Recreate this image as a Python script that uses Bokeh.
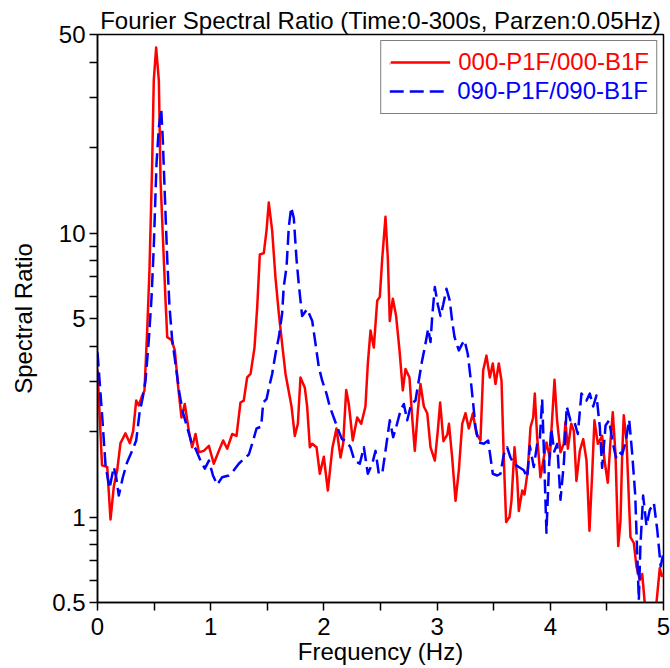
from bokeh.plotting import figure
from bokeh.models import Legend, LegendItem, FixedTicker, CustomJSTickFormatter, Range1d
from bokeh.embed import file_html
from bokeh.resources import INLINE

FONT = "Liberation Sans"

# Series 000-P1F/000-B1F (solid red)
freq_000 = [0.0, 0.04, 0.086, 0.115, 0.144, 0.174, 0.203, 0.247, 0.286, 0.315, 0.342, 0.365,
            0.389, 0.415, 0.439, 0.459, 0.483, 0.497, 0.518, 0.542, 0.557, 0.58, 0.6, 0.616,
            0.654, 0.683, 0.713, 0.742, 0.771, 0.807, 0.836, 0.866, 0.895, 0.939, 0.984, 1.027,
            1.072, 1.11, 1.146, 1.19, 1.228, 1.263, 1.292, 1.322, 1.352, 1.387, 1.411, 1.434,
            1.469, 1.493, 1.513, 1.543, 1.572, 1.602, 1.631, 1.661, 1.714, 1.743, 1.77, 1.793,
            1.831, 1.852, 1.876, 1.897, 1.935, 1.964, 1.999, 2.035, 2.075, 2.111, 2.147, 2.17,
            2.197, 2.22, 2.255, 2.294, 2.33, 2.367, 2.388, 2.412, 2.441, 2.471, 2.494, 2.515,
            2.544, 2.565, 2.582, 2.609, 2.638, 2.668, 2.697, 2.721, 2.756, 2.78, 2.803, 2.83,
            2.853, 2.883, 2.913, 2.942, 2.98, 3.006, 3.027, 3.056, 3.09, 3.105, 3.133, 3.163,
            3.192, 3.222, 3.251, 3.28, 3.316, 3.348, 3.383, 3.407, 3.436, 3.466, 3.492, 3.516,
            3.545, 3.569, 3.589, 3.61, 3.64, 3.657, 3.684, 3.707, 3.722, 3.752, 3.772, 3.801,
            3.825, 3.849, 3.863, 3.884, 3.913, 3.943, 3.966, 3.996, 4.017, 4.037, 4.06, 4.09,
            4.119, 4.134, 4.155, 4.185, 4.208, 4.231, 4.261, 4.291, 4.32, 4.346, 4.37, 4.39,
            4.42, 4.458, 4.479, 4.508, 4.532, 4.552, 4.576, 4.6, 4.62, 4.635, 4.649, 4.673,
            4.708, 4.738, 4.761, 4.791, 4.812, 4.832, 4.86, 4.91, 4.938, 4.967, 4.985, 5.0]
ratio_000 = [3.3, 1.52, 1.5, 0.98, 1.28, 1.46, 1.82, 1.97, 1.82, 2.01, 2.57, 2.47,
             2.64, 2.79, 4.54, 7.38, 17.6, 34.4, 45.0, 34.4, 15.3, 9.2, 5.9, 4.3,
             4.2, 3.86, 2.86, 2.24, 2.5, 2.01, 1.76, 1.96, 1.69, 1.71, 1.78, 1.54,
             1.71, 1.86, 1.74, 1.96, 1.93, 2.53, 2.57, 3.1, 3.19, 3.95, 5.5, 8.4,
             8.5, 10.2, 12.8, 10.2, 6.98, 5.2, 4.07, 3.19, 2.45, 1.93, 2.13, 3.1,
             2.86, 2.45, 1.76, 1.81, 1.76, 1.42, 1.63, 1.24, 1.75, 2.05, 1.62, 1.81,
             2.8, 2.5, 1.86, 2.24, 2.13, 2.45, 3.47, 4.54, 3.95, 5.78, 5.96, 8.1,
             11.4, 8.1, 4.9, 5.87, 5.1, 3.86, 2.79, 3.32, 3.1, 2.24, 1.71, 2.37,
             2.94, 2.45, 2.32, 1.76, 1.58, 2.01, 2.53, 1.85, 1.95, 2.13, 1.62, 1.14,
             1.46, 2.13, 2.32, 2.05, 2.32, 1.96, 1.86, 3.28, 3.7, 3.1, 3.47, 2.94,
             3.47, 3.02, 1.62, 0.96, 1.0, 1.14, 1.76, 1.38, 1.05, 1.24, 1.2, 1.46,
             2.07, 2.24, 2.72, 1.91, 1.38, 1.62, 1.83, 1.62, 2.24, 3.04, 2.19, 1.69,
             1.81, 2.16, 1.74, 2.13, 2.01, 1.34, 1.71, 1.88, 1.58, 0.895, 1.42, 2.19,
             1.81, 1.93, 1.58, 1.32, 1.86, 2.34, 1.66, 0.79, 0.97, 1.66, 2.28, 1.86,
             0.85, 0.81, 0.67, 0.6, 0.63, 0.51, 0.4, 0.4, 0.5, 0.66, 0.62, 0.63]

# Series 090-P1F/090-B1F (dashed blue)
freq_090 = [0.0, 0.04, 0.071, 0.106, 0.144, 0.165, 0.188, 0.224, 0.262, 0.306, 0.342, 0.371,
            0.4, 0.424, 0.453, 0.477, 0.497, 0.521, 0.542, 0.563, 0.577, 0.595, 0.616, 0.636,
            0.66, 0.689, 0.724, 0.754, 0.792, 0.83, 0.866, 0.91, 0.948, 0.984, 1.02, 1.057,
            1.101, 1.16, 1.204, 1.248, 1.292, 1.337, 1.375, 1.405, 1.446, 1.464, 1.493, 1.522,
            1.543, 1.572, 1.602, 1.631, 1.645, 1.67, 1.69, 1.711, 1.734, 1.758, 1.778, 1.808,
            1.852, 1.897, 1.926, 1.955, 1.985, 2.023, 2.052, 2.087, 2.132, 2.16, 2.191, 2.235,
            2.27, 2.317, 2.353, 2.388, 2.427, 2.456, 2.485, 2.515, 2.544, 2.582, 2.612, 2.638,
            2.677, 2.706, 2.736, 2.771, 2.809, 2.838, 2.868, 2.891, 2.921, 2.942, 2.957, 2.98,
            3.006, 3.03, 3.054, 3.083, 3.112, 3.133, 3.154, 3.192, 3.222, 3.242, 3.271, 3.295,
            3.319, 3.339, 3.368, 3.413, 3.451, 3.472, 3.492, 3.531, 3.56, 3.589, 3.619, 3.648,
            3.678, 3.722, 3.766, 3.796, 3.819, 3.854, 3.884, 3.907, 3.928, 3.949, 3.966, 3.987,
            4.008, 4.035, 4.061, 4.09, 4.12, 4.145, 4.178, 4.208, 4.243, 4.275, 4.32, 4.349,
            4.379, 4.408, 4.437, 4.458, 4.488, 4.52, 4.55, 4.58, 4.605, 4.635, 4.668, 4.697,
            4.723, 4.75, 4.767, 4.782, 4.796, 4.82, 4.85, 4.879, 4.915, 4.945, 4.975, 5.0]
ratio_090 = [3.8, 2.3, 1.52, 1.26, 1.5, 1.38, 1.19, 1.38, 1.56, 1.71, 1.86, 2.32,
             2.64, 3.02, 4.19, 5.9, 8.9, 17.5, 23.6, 27.3, 21.2, 13.5, 8.1, 5.5,
             4.19, 3.47, 2.72, 2.34, 2.07, 1.83, 1.74, 1.58, 1.48, 1.58, 1.4, 1.3,
             1.38, 1.4, 1.46, 1.54, 1.6, 1.66, 1.86, 2.05, 2.08, 2.53, 2.6, 2.94,
             3.19, 3.75, 4.3, 5.2, 6.45, 7.6, 10.5, 12.3, 11.3, 8.1, 6.6, 5.1,
             5.4, 4.9, 4.07, 3.37, 3.02, 2.72, 2.45, 2.24, 2.0, 1.88, 1.86, 1.76,
             1.58, 1.54, 1.76, 1.42, 1.54, 1.71, 1.42, 1.42, 1.71, 2.19, 1.91, 2.07,
             2.37, 2.5, 2.19, 2.5, 2.57, 3.02, 3.56, 3.95, 4.6, 4.13, 5.1, 6.45,
             5.6, 5.1, 5.6, 6.36, 5.78, 4.9, 4.3, 3.86, 4.07, 4.19, 3.75, 3.1,
             2.5, 2.07, 1.83, 1.81, 1.86, 1.62, 1.42, 1.4, 1.42, 1.66, 1.76, 1.62,
             1.54, 1.5, 1.46, 1.38, 1.78, 1.5, 1.81, 1.86, 2.6, 1.46, 0.88, 1.46,
             2.05, 1.7, 1.81, 1.15, 1.55, 2.45, 2.19, 2.2, 1.96, 2.72, 2.57, 2.72,
             2.45, 2.68, 2.08, 1.49, 2.1, 2.19, 1.84, 1.62, 1.7, 1.66, 1.86, 2.2,
             1.68, 1.2, 0.76, 0.51, 0.79, 1.19, 0.93, 1.06, 1.12, 0.9, 0.67, 0.75]

label_000 = "000-P1F/000-B1F"
label_090 = "090-P1F/090-B1F"
x_ticks = [0, 1, 2, 3, 4, 5]
x_minor = [0.5, 1.5, 2.5, 3.5, 4.5]
y_ticks = [0.5, 1, 5, 10, 50]
y_minor = [0.6, 0.7, 0.8, 0.9, 2, 3, 4, 6, 7, 8, 9, 20, 30, 40]

p = figure(width=670, height=668, y_axis_type="log",
           x_range=Range1d(0, 5), y_range=Range1d(0.5, 50),
           output_backend="svg", toolbar_location=None,
           min_border_left=97, min_border_right=7, min_border_top=34, min_border_bottom=66,
           x_axis_label="Frequency (Hz)", y_axis_label="Spectral Ratio")

p.title.text = "Fourier Spectral Ratio (Time:0-300s, Parzen:0.05Hz)"
p.title.align = "center"
p.title.text_font = FONT
p.title.text_font_size = "24px"
p.title.text_font_style = "normal"
p.title.text_color = "black"
p.title.standoff = 2

p.xgrid.visible = False
p.ygrid.visible = False
p.outline_line_color = "black"
p.outline_line_width = 1.5
p.outline_line_alpha = 1
p.background_fill_color = "white"
p.border_fill_color = "white"

r1 = p.line(freq_000, ratio_000, line_color="#ff0000", line_width=2.5, line_join="round")
r2 = p.line(freq_090, ratio_090, line_color="#0000ff", line_width=2.5, line_dash="14 6",
            line_join="round")

p.xaxis.ticker = FixedTicker(ticks=x_ticks, minor_ticks=x_minor)
p.yaxis.ticker = FixedTicker(ticks=y_ticks, minor_ticks=y_minor)
p.yaxis.formatter = CustomJSTickFormatter(code="return String(tick);")
p.xaxis.formatter = CustomJSTickFormatter(code="return String(tick);")

for ax in (p.xaxis[0], p.yaxis[0]):
    ax.axis_line_color = "black"
    ax.axis_line_width = 1.5
    ax.major_tick_line_color = "black"
    ax.minor_tick_line_color = "black"
    ax.major_tick_line_width = 1.5
    ax.minor_tick_line_width = 1.5
    ax.major_tick_in = 0
    ax.minor_tick_in = 0
    ax.major_tick_out = 8
    ax.minor_tick_out = 8
    ax.major_label_text_font = FONT
    ax.major_label_text_font_size = "24px"
    ax.major_label_text_color = "black"
    ax.axis_label_text_font = FONT
    ax.axis_label_text_font_size = "24px"
    ax.axis_label_text_font_style = "normal"
    ax.axis_label_text_color = "black"

p.xaxis[0].major_label_standoff = 7
p.xaxis[0].axis_label_standoff = 0
p.yaxis[0].major_label_standoff = 4
p.yaxis[0].axis_label_standoff = 12

common = dict(glyph_width=60, glyph_height=24, label_height=24, label_standoff=8,
              label_text_font=FONT, label_text_font_size="24px", spacing=0)

leg_all = Legend(items=[LegendItem(label=label_000, renderers=[r1]),
                        LegendItem(label=label_090, renderers=[r2])],
                 location="top_right", margin=6, padding=8,
                 label_text_color="#0000ff", border_line_color="black",
                 border_line_width=1.5, background_fill_color="white",
                 background_fill_alpha=1, **common)
leg_red = Legend(items=[LegendItem(label=label_000, renderers=[r1])],
                 location="top_right", margin=14, padding=0,
                 label_text_color="#ff0000", border_line_alpha=0,
                 background_fill_color="white", background_fill_alpha=1, **common)
p.add_layout(leg_all)
p.add_layout(leg_red)

open("out.html", "w").write(file_html(p, INLINE))
